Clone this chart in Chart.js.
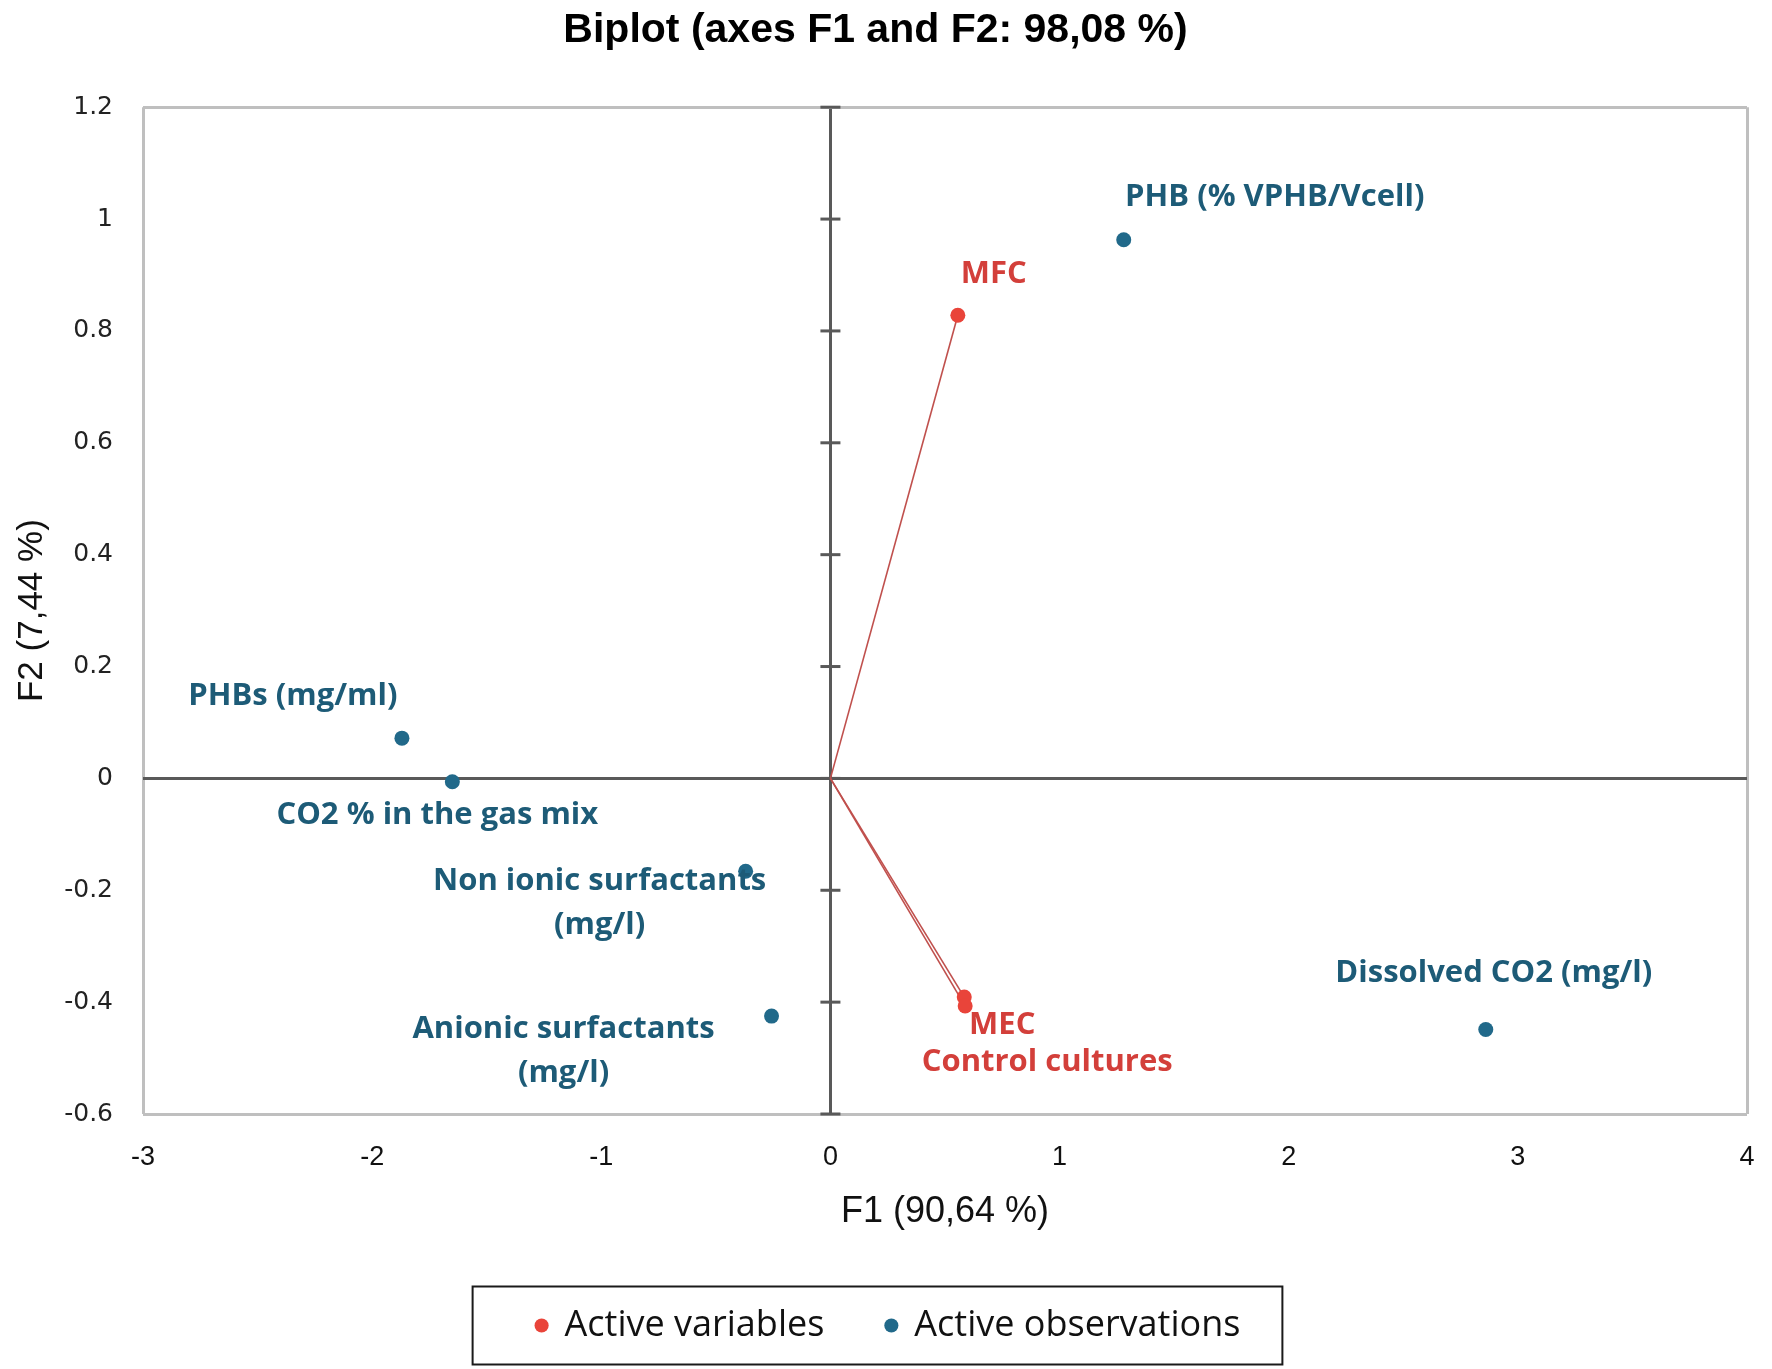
<!DOCTYPE html>
<html>
<head>
<meta charset="utf-8">
<script src="https://cdn.jsdelivr.net/npm/chart.js@4.4.1/dist/chart.umd.min.js"></script>
<style>
html,body{margin:0;padding:0;background:#fff}
#wrap{width:1772px;height:1369px;position:relative}
</style>
</head>
<body>
<div id="wrap"><canvas id="c" width="1772" height="1369"></canvas></div>
<script>
// ---- data ----
const variableNames = [['MFC'], ['MEC'], ['Control cultures']];
const variableF1 = [0.556, 0.584, 0.588];
const variableF2 = [0.828, -0.391, -0.407];

const observationNames = [
  ['PHB (% VPHB/Vcell)'],
  ['PHBs (mg/ml)'],
  ['CO2 % in the gas mix'],
  ['Non ionic surfactants', '(mg/l)'],
  ['Anionic surfactants', '(mg/l)'],
  ['Dissolved CO2 (mg/l)']
];
const observationF1 = [1.28, -1.87, -1.65, -0.37, -0.257, 2.86];
const observationF2 = [0.963, 0.072, -0.006, -0.166, -0.425, -0.449];

const xTicks = [-3, -2, -1, 0, 1, 2, 3, 4];
const yTicks = [-0.6, -0.4, -0.2, 0, 0.2, 0.4, 0.6, 0.8, 1, 1.2];

const titleText = 'Biplot (axes F1 and F2: 98,08 %)';
const xTitle = 'F1 (90,64 %)';
const yTitle = 'F2 (7,44 %)';
const legendVariables = 'Active variables';
const legendObservations = 'Active observations';

// ---- label placement (pixel offsets from each point) ----
const variableLabelOffsets = [[36, -41], [38, 28], [82, 56]];
const observationLabelOffsets = [[151, -43], [-109, -42], [-15, 33], [-146, 10], [-208, 13], [8, -56]];

// ---- styles ----
const RED_DOT = '#e9443a';
const RED_TEXT = '#d33f3a';
const RED_LINE = '#c0504d';
const BLUE_DOT = '#21698a';
const BLUE_TEXT = '#1d5b77';
const ZERO_AXIS = '#595959';
const FRAME = '#bfbfbf';

const near = (a, b) => Math.abs(a - b) < 1e-9;

const variablePoints = variableF1.map((v, i) => ({x: v, y: variableF2[i]}));
const observationPoints = observationF1.map((v, i) => ({x: v, y: observationF2[i]}));

const vectorDatasets = variablePoints.map(p => ({
  label: '_vector',
  data: [{x: 0, y: 0}, {x: p.x, y: p.y}],
  showLine: true,
  borderColor: RED_LINE,
  borderWidth: 1.6,
  pointRadius: 0,
  fill: false
}));

const zeroTicksPlugin = {
  id: 'zeroTicks',
  beforeDatasetsDraw(chart) {
    const {ctx, scales: {x, y}} = chart;
    const px = x.getPixelForValue(0);
    ctx.save();
    ctx.strokeStyle = ZERO_AXIS;
    ctx.lineWidth = 3;
    yTicks.forEach(v => {
      const py = y.getPixelForValue(v);
      ctx.beginPath();
      ctx.moveTo(px - 10, py);
      ctx.lineTo(px + 10, py);
      ctx.stroke();
    });
    ctx.restore();
  }
};

const labelPlugin = {
  id: 'pointLabels',
  afterDatasetsDraw(chart) {
    const {ctx, scales: {x, y}} = chart;
    ctx.save();
    ctx.font = '700 31px "Open Sans"';
    ctx.textAlign = 'center';
    ctx.textBaseline = 'middle';
    const draw = (names, xs, ys, offs, color) => {
      ctx.fillStyle = color;
      names.forEach((lines, i) => {
        const px = x.getPixelForValue(xs[i]) + offs[i][0];
        const py = y.getPixelForValue(ys[i]) + offs[i][1];
        lines.forEach((t, k) => ctx.fillText(t, px, py + k * 44));
      });
    };
    draw(observationNames, observationF1, observationF2, observationLabelOffsets, BLUE_TEXT);
    draw(variableNames, variableF1, variableF2, variableLabelOffsets, RED_TEXT);
    ctx.restore();
  }
};

const legendBoxPlugin = {
  id: 'legendBox',
  afterLayout(chart) {
    const lg = chart.legend;
    if (lg) { lg.left += 13; lg.right += 13; }
  },
  afterDraw(chart) {
    const lg = chart.legend;
    if (!lg || !lg.legendHitBoxes || !lg.legendHitBoxes.length) return;
    const hb = lg.legendHitBoxes;
    const first = hb[0], last = hb[hb.length - 1];
    const cy = first.top + first.height / 2;
    const left = first.left + 5 - 69;
    const right = last.left + last.width + 42;
    const ctx = chart.ctx;
    ctx.save();
    ctx.strokeStyle = '#1a1a1a';
    ctx.lineWidth = 2;
    ctx.strokeRect(left, cy - 39, right - left, 78);
    ctx.restore();
  }
};

new Chart(document.getElementById('c'), {
  type: 'scatter',
  data: {
    datasets: [
      {
        label: legendVariables,
        data: variablePoints,
        backgroundColor: RED_DOT,
        borderColor: RED_DOT,
        borderWidth: 0,
        pointRadius: 7.5,
        pointStyle: 'circle'
      },
      {
        label: legendObservations,
        data: observationPoints,
        backgroundColor: BLUE_DOT,
        borderColor: BLUE_DOT,
        borderWidth: 0,
        pointRadius: 7.5,
        pointStyle: 'circle'
      },
      ...vectorDatasets
    ]
  },
  options: {
    responsive: false,
    animation: false,
    devicePixelRatio: 1,
    events: [],
    layout: {autoPadding: false, padding: {left: 4, right: 25, top: 0, bottom: 15.5}},
    scales: {
      x: {
        type: 'linear',
        min: xTicks[0],
        max: xTicks[xTicks.length - 1],
        afterBuildTicks: s => { s.ticks = xTicks.map(v => ({value: v})); },
        afterFit: s => { s.height = 131.5; },
        border: {display: false},
        grid: {
          drawTicks: true,
          tickLength: 16,
          tickWidth: 0,
          tickColor: 'rgba(0,0,0,0)',
          color: c => near(c.tick.value, 0) ? ZERO_AXIS : FRAME,
          lineWidth: c => (near(c.tick.value, 0) || near(c.tick.value, xTicks[0]) || near(c.tick.value, xTicks[xTicks.length - 1])) ? 3 : 0
        },
        ticks: {
          padding: 11,
          color: '#111',
          font: {family: '"Liberation Sans"', size: 27},
          callback: v => String(v)
        },
        title: {
          display: true,
          text: xTitle,
          color: '#111',
          font: {family: '"Liberation Sans"', size: 36},
          padding: {top: 0, bottom: 12}
        }
      },
      y: {
        type: 'linear',
        min: yTicks[0],
        max: yTicks[yTicks.length - 1],
        afterBuildTicks: s => { s.ticks = yTicks.map(v => ({value: v})); },
        afterFit: s => { s.width = 139; },
        border: {display: false},
        grid: {
          drawTicks: false,
          color: c => near(c.tick.value, 0) ? ZERO_AXIS : FRAME,
          lineWidth: c => (near(c.tick.value, 0) || near(c.tick.value, yTicks[0]) || near(c.tick.value, yTicks[yTicks.length - 1])) ? 3 : 0
        },
        ticks: {
          padding: 30,
          color: '#222',
          font: {family: '"DejaVu Sans"', size: 25},
          callback: v => String(Number(v.toFixed(1)))
        },
        title: {
          display: true,
          text: yTitle,
          color: '#111',
          font: {family: '"Liberation Sans"', size: 35},
          padding: {top: 7, bottom: 0}
        }
      }
    },
    plugins: {
      title: {
        display: true,
        text: titleText,
        color: '#000',
        font: {family: '"Liberation Sans"', weight: 'bold', size: 41},
        padding: {top: 6, bottom: 52}
      },
      legend: {
        display: true,
        position: 'bottom',
        labels: {
          usePointStyle: true,
          boxWidth: 10,
          boxHeight: 10,
          padding: 62,
          color: '#111',
          font: {family: '"Open Sans"', size: 36},
          filter: item => item.text !== '_vector'
        }
      },
      tooltip: {enabled: false}
    }
  },
  plugins: [zeroTicksPlugin, labelPlugin, legendBoxPlugin]
});
</script>
</body>
</html>
